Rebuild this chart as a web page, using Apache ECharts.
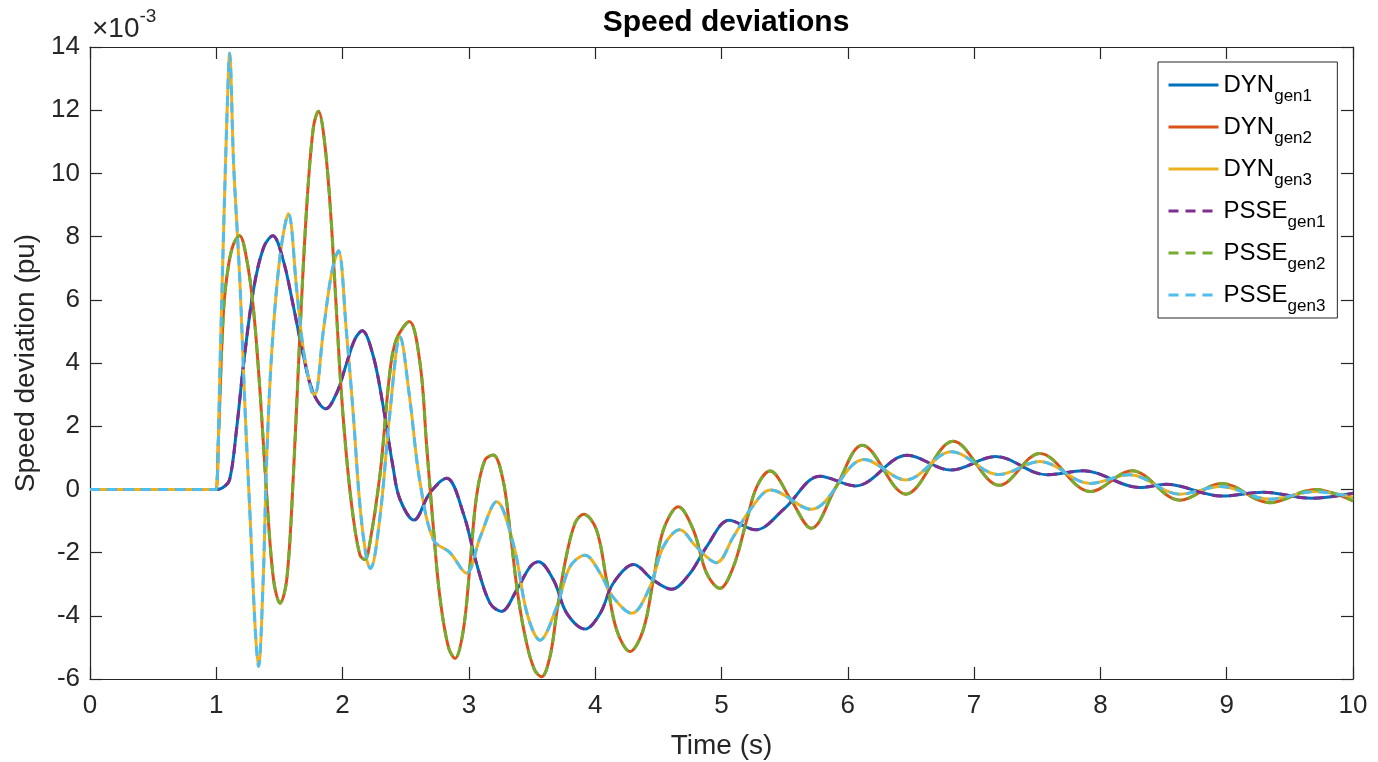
<!DOCTYPE html>
<html>
<head>
<meta charset="utf-8">
<script src="https://cdn.jsdelivr.net/npm/echarts@6/dist/echarts.min.js"></script>
<style>
  html, body { margin: 0; padding: 0; background: #fff; }
  #main { width: 1378px; height: 762px; }
</style>
</head>
<body>
<div id="main"></div>
<script>
// speed deviation traces, [time (s), deviation x1e-3 pu]
var gen1 = [[0,0],[0.9,0],[0.99,0],[1.0,0],[1.05,0.05],[1.105,0.3],[1.163,2.0],[1.216,3.97],[1.295,6.33],[1.374,7.65],[1.447,8.03],
  [1.53,7.25],[1.61,5.8],[1.69,4.23],[1.768,3.05],[1.868,2.55],[1.953,3.05],[2.03,3.97],[2.097,4.75],[2.155,5.02],
  [2.242,4.23],[2.32,2.66],[2.4,0.69],[2.453,-0.3],[2.565,-0.97],[2.69,-0.12],[2.824,0.35],[2.956,-0.76],[3.06,-2.34],
  [3.167,-3.6],[3.258,-3.86],[3.379,-3.18],[3.484,-2.45],[3.55,-2.29],[3.67,-2.87],[3.775,-3.92],[3.92,-4.42],
  [4.04,-3.92],[4.143,-2.97],[4.305,-2.38],[4.46,-2.87],[4.605,-3.16],[4.75,-2.66],[4.883,-1.81],[5.06,-0.98],
  [5.27,-1.28],[5.5,-0.6],[5.78,0.42],[6.06,0.11],[6.47,1.08],[6.815,0.61],[7.17,1.04],[7.575,0.46],[7.865,0.59],
  [8.31,0.06],[8.52,0.16],[8.96,-0.21],[9.29,-0.09],[9.67,-0.28],[10,-0.12]];

var gen2 = [[0,0],[0.9,0],[0.99,0],[1.0,0],[1.018,1.74],[1.058,5.7],[1.097,7.1],[1.137,7.77],[1.184,8.03],[1.242,7.25],
  [1.295,5.67],[1.347,3.05],[1.4,-0.23],[1.453,-2.85],[1.505,-3.6],[1.558,-2.85],[1.61,0.43],[1.663,5.0],[1.716,8.95],
  [1.768,11.44],[1.808,11.97],[1.86,10.9],[1.913,8.3],[1.979,3.7],[2.03,1.08],[2.084,-0.88],[2.137,-2.07],[2.175,-2.22],
  [2.205,-1.95],[2.295,0.43],[2.374,3.7],[2.426,4.75],[2.528,5.31],[2.613,3.99],[2.666,1.35],[2.72,-1.28],[2.77,-3.4],
  [2.837,-4.98],[2.89,-5.35],[2.956,-4.45],[3.01,-2.34],[3.06,-0.23],[3.127,0.93],[3.193,1.09],[3.27,0.3],[3.325,-1.28],
  [3.39,-3.4],[3.457,-4.87],[3.52,-5.71],[3.576,-5.93],[3.642,-5.29],[3.695,-3.92],[3.76,-2.34],[3.84,-1.07],[3.91,-0.79],
  [4.01,-1.28],[4.09,-2.87],[4.17,-4.45],[4.276,-5.13],[4.38,-4.45],[4.46,-2.87],[4.54,-1.28],[4.658,-0.55],[4.777,-1.28],
  [4.883,-2.66],[4.988,-3.13],[5.094,-2.45],[5.2,-0.97],[5.28,0.09],[5.384,0.58],[5.55,-0.33],[5.71,-1.23],[5.91,0.1],
  [6.115,1.4],[6.46,-0.15],[6.835,1.52],[7.2,0.13],[7.52,1.14],[7.92,-0.07],[8.25,0.59],[8.63,-0.34],[8.96,0.19],
  [9.34,-0.42],[9.7,0.0],[10,-0.36]];

var gen3 = [[0,0],[0.9,0],[0.99,0],[1.0,0],[1.03,4.0],[1.06,8.5],[1.09,12.5],[1.105,13.8],[1.137,10.3],[1.168,8.0],
  [1.19,6.3],[1.229,2.4],[1.268,-0.9],[1.308,-4.4],[1.334,-5.6],[1.37,-3.0],[1.4,1.09],[1.44,4.4],[1.505,7.4],
  [1.571,8.72],[1.637,6.3],[1.69,4.4],[1.755,3.1],[1.78,3.0],[1.847,5.0],[1.913,6.85],[1.966,7.55],[2.03,5.0],
  [2.084,2.4],[2.137,-0.5],[2.19,-2.2],[2.22,-2.5],[2.295,-0.9],[2.374,2.4],[2.455,4.83],[2.53,2.93],[2.61,0.3],
  [2.72,-1.6],[2.85,-2.0],[2.98,-2.65],[3.09,-1.5],[3.22,-0.39],[3.357,-1.81],[3.46,-3.92],[3.563,-4.77],[3.696,-3.71],
  [3.8,-2.45],[3.92,-2.08],[4.04,-2.66],[4.14,-3.4],[4.29,-3.92],[4.434,-3.08],[4.54,-1.81],[4.67,-1.28],[4.8,-1.81],
  [4.96,-2.32],[5.094,-1.5],[5.226,-0.65],[5.39,-0.02],[5.71,-0.63],[6.13,0.95],[6.46,0.3],[6.82,1.19],[7.195,0.47],
  [7.52,0.88],[7.92,0.19],[8.23,0.46],[8.63,-0.15],[8.95,0.09],[9.34,-0.31],[9.7,-0.07],[10,-0.25]];

var names = ['DYN{s|gen1}', 'DYN{s|gen2}', 'DYN{s|gen3}', 'PSSE{s|gen1}', 'PSSE{s|gen2}', 'PSSE{s|gen3}'];
var colors = ['#0072BD', '#D95319', '#EDB120', '#7E2F8E', '#77AC30', '#4DBEEE'];
var xTicks = [0, 10, 1];   // min, max, step
var yTicks = [-6, 14, 2];

var chart = echarts.init(document.getElementById('main'));
var axisColor = '#262626';
var font = 'Liberation Sans, Arial, Helvetica, sans-serif';

function mkSeries(i, pts, dashed) {
  return {
    name: names[i],
    type: 'line',
    data: pts,
    showSymbol: false,
    symbol: 'none',
    smooth: 0.35,
    animation: false,
    lineStyle: { color: colors[i], width: 3, type: dashed ? [10, 7] : 'solid' },
    itemStyle: { color: colors[i] }
  };
}

var xBase = {
  type: 'value', min: xTicks[0], max: xTicks[1], interval: xTicks[2],
  axisLine: { show: true, onZero: false, lineStyle: { color: axisColor, width: 1.2 } },
  axisTick: { show: true, inside: true, length: 12, lineStyle: { color: axisColor, width: 1.2 } },
  splitLine: { show: false }
};
var yBase = {
  type: 'value', min: yTicks[0], max: yTicks[1], interval: yTicks[2],
  axisLine: { show: true, onZero: false, lineStyle: { color: axisColor, width: 1.2 } },
  axisTick: { show: true, inside: true, length: 12, lineStyle: { color: axisColor, width: 1.2 } },
  splitLine: { show: false }
};

var option = {
  backgroundColor: '#fff',
  animation: false,
  title: {
    text: 'Speed deviations',
    left: 721, top: 3, textAlign: 'center',
    textStyle: { fontFamily: font, fontSize: 30, fontWeight: 'bold', color: '#000' }
  },
  grid: { left: 90, right: 25, top: 47, bottom: 83, outerBoundsMode: 'none', containLabel: false },
  xAxis: [
    Object.assign({}, xBase, {
      position: 'bottom',
      axisLabel: { fontFamily: font, fontSize: 26, color: axisColor, margin: 14 },
      name: 'Time (s)', nameLocation: 'middle', nameGap: 53,
      nameTextStyle: { fontFamily: font, fontSize: 28, color: axisColor }
    }),
    Object.assign({}, xBase, { position: 'top', axisLabel: { show: false } })
  ],
  yAxis: [
    Object.assign({}, yBase, {
      position: 'left',
      axisLabel: { fontFamily: font, fontSize: 26, color: axisColor, margin: 10 },
      name: 'Speed deviation (pu)', nameLocation: 'middle', nameGap: 45,
      nameTextStyle: { fontFamily: font, fontSize: 28, color: axisColor }
    }),
    Object.assign({}, yBase, { position: 'right', axisLabel: { show: false } })
  ],
  legend: {
    orient: 'vertical',
    left: 1158, top: 62,
    padding: [3, 12, 3, 9],
    itemWidth: 50, itemHeight: 14, itemGap: 2,
    itemStyle: { opacity: 0 },
    lineStyle: { width: 3 },
    backgroundColor: '#fff',
    borderColor: axisColor, borderWidth: 1,
    borderRadius: 0,
    data: names,
    textStyle: {
      fontFamily: font, fontSize: 24, color: '#000',
      rich: {
        s: { fontFamily: font, fontSize: 17, lineHeight: 17, verticalAlign: 'bottom', color: '#000' }
      },
      lineHeight: 40
    }
  },
  graphic: [{
    type: 'text',
    left: 92, top: 7,
    style: {
      text: '{a|×10}{b|-3}',
      rich: {
        a: { fontFamily: font, fontSize: 28, lineHeight: 36, verticalAlign: 'bottom', fill: axisColor },
        b: { fontFamily: font, fontSize: 19, lineHeight: 19, verticalAlign: 'top', fill: axisColor }
      }
    }
  }],
  series: [
    mkSeries(0, gen1, false),
    mkSeries(1, gen2, false),
    mkSeries(2, gen3, false),
    mkSeries(3, gen1, true),
    mkSeries(4, gen2, true),
    mkSeries(5, gen3, true)
  ]
};
chart.setOption(option);
</script>
</body>
</html>
